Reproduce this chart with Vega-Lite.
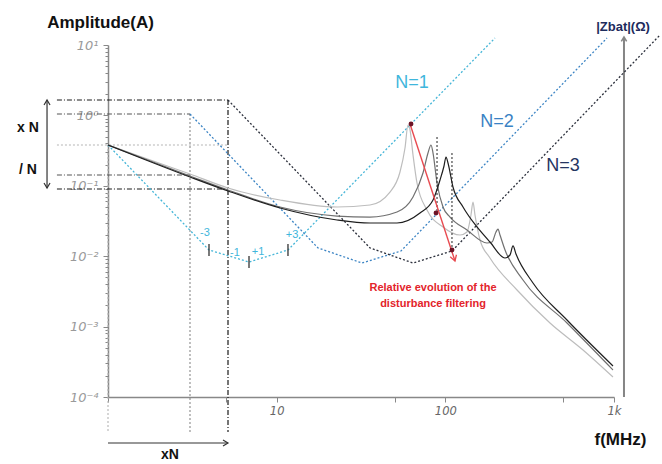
{
  "$schema": "https://vega.github.io/schema/vega-lite/v6.json",
  "width": 506,
  "height": 352,
  "autosize": {"type": "none"},
  "padding": {"left": 108, "top": 45, "right": 48, "bottom": 67},
  "background": "white",
  "config": {"view": {"stroke": null}, "font": "Liberation Sans"},
  "datasets": {
    "seg": [
      {"s": "kdd", "f": 0.498, "f2": 5.146, "a": 1.655, "a2": 1.655},
      {"s": "kdd", "f": 5.146, "f2": 5.146, "a": 1.655, "a2": 3.18e-5},
      {"s": "kdd", "f": 0.498, "f2": 5.146, "a": 0.0901, "a2": 0.0901},
      {"s": "gdd", "f": 0.498, "f2": 3.063, "a": 1.047, "a2": 1.047},
      {"s": "gdd", "f": 0.498, "f2": 3.063, "a": 0.1423, "a2": 0.1423},
      {"s": "gdot", "f": 3.063, "f2": 3.063, "a": 1.047, "a2": 3.18e-5},
      {"s": "lgdot", "f": 0.498, "f2": 5.146, "a": 0.3798, "a2": 0.3798},
      {"s": "lgdot", "f": 1, "f2": 1, "a": 0.3798, "a2": 3.18e-5},
      {"s": "kdot", "f": 89.27, "f2": 89.27, "a": 0.4933, "a2": 0.0411},
      {"s": "kdot", "f": 109.5, "f2": 109.5, "a": 0.2922, "a2": 0.01225},
      {"s": "tick", "f": 3.97, "f2": 3.97, "a": 0.0149, "a2": 0.01006},
      {"s": "tick", "f": 6.855, "f2": 6.855, "a": 0.01006, "a2": 0.0068},
      {"s": "tick", "f": 11.67, "f2": 11.67, "a": 0.0149, "a2": 0.01006},
      {"s": "red", "f": 61.74, "f2": 114.1, "a": 0.7546, "a2": 0.00855},
      {"s": "arr", "f": 0.435, "f2": 0.435, "a": 1.655, "a2": 0.0931},
      {"s": "arr", "f": 1, "f2": 5.146, "a": 2.22e-5, "a2": 2.22e-5},
      {"s": "zax", "f": 1146, "f2": 1146, "a": 0.0001, "a2": 12.99}
    ],
    "heads": [
      {"h": "up", "f": 0.435, "a": 1.655},
      {"h": "down", "f": 0.435, "a": 0.0931},
      {"h": "right", "f": 5.146, "a": 2.22e-5},
      {"h": "red", "f": 114.1, "a": 0.00855},
      {"h": "zup", "f": 1146, "a": 12.99}
    ],
    "dots": [
      {"f": 62.59, "a": 0.7546},
      {"f": 88.05, "a": 0.0411},
      {"f": 109.5, "a": 0.01225}
    ],
    "vc": [
      {"n": "N1", "f": 1, "a": 0.3798},
      {"n": "N1", "f": 3.97, "a": 0.01225},
      {"n": "N1", "f": 6.855, "a": 0.00827},
      {"n": "N1", "f": 11.67, "a": 0.01225},
      {"n": "N1", "f": 197.0, "a": 12.57},
      {"n": "N2", "f": 3.063, "a": 1.047},
      {"n": "N2", "f": 17.58, "a": 0.0131},
      {"n": "N2", "f": 32.06, "a": 0.008},
      {"n": "N2", "f": 54.59, "a": 0.01186},
      {"n": "N2", "f": 909, "a": 12.57},
      {"n": "N3", "f": 5.146, "a": 1.655},
      {"n": "N3", "f": 35.76, "a": 0.0131},
      {"n": "N3", "f": 64.33, "a": 0.008},
      {"n": "N3", "f": 109.5, "a": 0.01186},
      {"n": "N3", "f": 1874, "a": 13.87}
    ],
    "sp": [
      {"n": "S1", "f": 1, "a": 0.3798},
      {"n": "S1", "f": 3.063, "a": 0.1471},
      {"n": "S1", "f": 5.146, "a": 0.0931},
      {"n": "S1", "f": 10.46, "a": 0.0628},
      {"n": "S1", "f": 22.79, "a": 0.05},
      {"n": "S1", "f": 35.76, "a": 0.0534},
      {"n": "S1", "f": 46.97, "a": 0.0816},
      {"n": "S1", "f": 53.85, "a": 0.157},
      {"n": "S1", "f": 57.66, "a": 0.3442},
      {"n": "S1", "f": 60.08, "a": 0.7304},
      {"n": "S1", "f": 61.74, "a": 0.6204},
      {"n": "S1", "f": 64.33, "a": 0.2738},
      {"n": "S1", "f": 67.92, "a": 0.1096},
      {"n": "S1", "f": 77.85, "a": 0.0453},
      {"n": "S1", "f": 96.85, "a": 0.026},
      {"n": "S1", "f": 122.2, "a": 0.02},
      {"n": "S1", "f": 134.4, "a": 0.0221},
      {"n": "S1", "f": 141.9, "a": 0.0385},
      {"n": "S1", "f": 145.9, "a": 0.0589},
      {"n": "S1", "f": 149.9, "a": 0.0385},
      {"n": "S1", "f": 160.6, "a": 0.017},
      {"n": "S1", "f": 184, "a": 0.00943},
      {"n": "S1", "f": 266.1, "a": 0.00331},
      {"n": "S1", "f": 417.4, "a": 0.001125},
      {"n": "S1", "f": 655.1, "a": 0.000465},
      {"n": "S1", "f": 986.3, "a": 0.000192},
      {"n": "S2", "f": 1, "a": 0.3798},
      {"n": "S2", "f": 3.063, "a": 0.1377},
      {"n": "S2", "f": 5.146, "a": 0.0872},
      {"n": "S2", "f": 10.46, "a": 0.05},
      {"n": "S2", "f": 22.79, "a": 0.0372},
      {"n": "S2", "f": 35.76, "a": 0.036},
      {"n": "S2", "f": 51.69, "a": 0.0424},
      {"n": "S2", "f": 64.33, "a": 0.0693},
      {"n": "S2", "f": 73.71, "a": 0.152},
      {"n": "S2", "f": 78.92, "a": 0.2922},
      {"n": "S2", "f": 82.22, "a": 0.3798},
      {"n": "S2", "f": 84.53, "a": 0.2922},
      {"n": "S2", "f": 89.27, "a": 0.1096},
      {"n": "S2", "f": 96.85, "a": 0.05},
      {"n": "S2", "f": 106.6, "a": 0.036},
      {"n": "S2", "f": 134.4, "a": 0.0236},
      {"n": "S2", "f": 176.6, "a": 0.0154},
      {"n": "S2", "f": 189.1, "a": 0.0159},
      {"n": "S2", "f": 199.7, "a": 0.0221},
      {"n": "S2", "f": 205.3, "a": 0.0243},
      {"n": "S2", "f": 210.9, "a": 0.02},
      {"n": "S2", "f": 225.9, "a": 0.01225},
      {"n": "S2", "f": 288.7, "a": 0.00459},
      {"n": "S2", "f": 526.4, "a": 0.001125},
      {"n": "S2", "f": 986.3, "a": 0.000242},
      {"n": "S3", "f": 1, "a": 0.3798},
      {"n": "S3", "f": 3.063, "a": 0.1334},
      {"n": "S3", "f": 5.146, "a": 0.0844},
      {"n": "S3", "f": 10.46, "a": 0.0484},
      {"n": "S3", "f": 22.79, "a": 0.0327},
      {"n": "S3", "f": 35.76, "a": 0.0296},
      {"n": "S3", "f": 51.69, "a": 0.0296},
      {"n": "S3", "f": 70.75, "a": 0.0411},
      {"n": "S3", "f": 84.53, "a": 0.0628},
      {"n": "S3", "f": 92.99, "a": 0.1209},
      {"n": "S3", "f": 98.2, "a": 0.1911},
      {"n": "S3", "f": 100.9, "a": 0.2565},
      {"n": "S3", "f": 103.7, "a": 0.2109},
      {"n": "S3", "f": 111, "a": 0.0962},
      {"n": "S3", "f": 127.3, "a": 0.05},
      {"n": "S3", "f": 154.1, "a": 0.026},
      {"n": "S3", "f": 184, "a": 0.0159},
      {"n": "S3", "f": 225.9, "a": 0.00943},
      {"n": "S3", "f": 241.7, "a": 0.0104},
      {"n": "S3", "f": 251.9, "a": 0.014},
      {"n": "S3", "f": 262.4, "a": 0.01075},
      {"n": "S3", "f": 330.9, "a": 0.00416},
      {"n": "S3", "f": 526.4, "a": 0.00124},
      {"n": "S3", "f": 986.3, "a": 0.000276}
    ],
    "nlab": [
      {"n": "T1", "t": "N=1", "f": 63.45, "a": 2.885},
      {"n": "T2", "t": "N=2", "f": 202.5, "a": 0.8056},
      {"n": "T3", "t": "N=3", "f": 498.5, "a": 0.1911}
    ],
    "slab": [
      {"t": "-3", "f": 3.759, "a": 0.0214},
      {"t": "-1", "f": 5.662, "a": 0.0111},
      {"t": "+1", "f": 7.751, "a": 0.01148},
      {"t": "+3", "f": 12.33, "a": 0.02}
    ],
    "rlab": [
      {"t": "Relative evolution of the", "f": 84.52, "a": 0.003534},
      {"t": "disturbance filtering", "f": 84.52, "a": 0.002094}
    ],
    "blab": [
      {"t": "x N", "f": 0.3355, "a": 0.6622},
      {"t": "/ N", "f": 0.3355, "a": 0.1676},
      {"t": "xN", "f": 2.331, "a": 1.5e-5}
    ],
    "zlab": [
      {"t": "|Zbat|(Ω)", "f": 1131, "a": 18.02}
    ]
  },
  "encoding": {
    "x": {
      "field": "f",
      "type": "quantitative",
      "scale": {"type": "log", "domain": [1, 1000], "nice": false},
      "axis": {
        "values": [1, 5, 10, 50, 100, 500, 1000],
        "labelExpr": "datum.value==10?'10':datum.value==100?'100':datum.value==1000?'1k':''",
        "title": "f(MHz)",
        "titleX": 512,
        "titleY": 42,
        "titleAlign": "center",
        "titleBaseline": "middle",
        "titleFontSize": 17,
        "titleFontWeight": "bold",
        "titleColor": "#111111",
        "labelFont": "DejaVu Sans",
        "labelFontStyle": "italic",
        "labelFontSize": 11.5,
        "labelColor": "#666666",
        "labelPadding": 3,
        "labelFlush": false,
        "labelOverlap": false,
        "tickSize": 5,
        "tickColor": "#888888",
        "domainColor": "#888888",
        "domainWidth": 1.5,
        "grid": false
      }
    },
    "y": {
      "field": "a",
      "type": "quantitative",
      "scale": {"type": "log", "domain": [0.0001, 10], "nice": false},
      "axis": {
        "values": [0.0001, 0.0002, 0.0003, 0.0004, 0.0005, 0.0006, 0.0007, 0.0008, 0.0009, 0.001, 0.002, 0.003, 0.004, 0.005, 0.006, 0.007, 0.008, 0.009, 0.01, 0.02, 0.03, 0.04, 0.05, 0.06, 0.07, 0.08, 0.09, 0.1, 0.2, 0.3, 0.4, 0.5, 0.6, 0.7, 0.8, 0.9, 1, 2, 3, 4, 5, 6, 7, 8, 9, 10],
        "labelExpr": "datum.value==10?'10¹':datum.value==1?'10⁰':datum.value==0.1?'10⁻¹':datum.value==0.01?'10⁻²':datum.value==0.001?'10⁻³':datum.value==0.0001?'10⁻⁴':''",
        "title": "Amplitude(A)",
        "titleX": -8,
        "titleY": -23,
        "titleAngle": 0,
        "titleAlign": "center",
        "titleBaseline": "middle",
        "titleFontSize": 17,
        "titleFontWeight": "bold",
        "titleColor": "#111111",
        "labelFont": "DejaVu Sans",
        "labelFontStyle": "italic",
        "labelFontSize": 13,
        "labelColor": "#9a9a9a",
        "labelPadding": 5,
        "labelOverlap": false,
        "tickSize": {"condition": {"test": "datum.value==10||datum.value==1||datum.value==0.1||datum.value==0.01||datum.value==0.001||datum.value==0.0001", "value": 5}, "value": 3},
        "tickColor": "#888888",
        "domainColor": "#888888",
        "domainWidth": 1.5,
        "grid": false
      }
    }
  },
  "layer": [
    {"data": {"name": "seg"}, "transform": [{"filter": "datum.s=='lgdot'"}], "mark": {"type": "rule", "color": "#b5b5b5", "strokeDash": [2, 2], "strokeWidth": 1.1}, "encoding": {"x2": {"field": "f2"}, "y2": {"field": "a2"}}},
    {"data": {"name": "seg"}, "transform": [{"filter": "datum.s=='gdot'"}], "mark": {"type": "rule", "color": "#8a8a8a", "strokeDash": [2, 2], "strokeWidth": 1.1}, "encoding": {"x2": {"field": "f2"}, "y2": {"field": "a2"}}},
    {"data": {"name": "seg"}, "transform": [{"filter": "datum.s=='gdd'"}], "mark": {"type": "rule", "color": "#555555", "strokeDash": [5, 2, 1, 2], "strokeWidth": 1.1}, "encoding": {"x2": {"field": "f2"}, "y2": {"field": "a2"}}},
    {"data": {"name": "seg"}, "transform": [{"filter": "datum.s=='kdd'"}], "mark": {"type": "rule", "color": "#1a1a1a", "strokeDash": [5, 2, 1, 2], "strokeWidth": 1.2}, "encoding": {"x2": {"field": "f2"}, "y2": {"field": "a2"}}},
    {"data": {"name": "seg"}, "transform": [{"filter": "datum.s=='zax'"}], "mark": {"type": "rule", "color": "#858585", "strokeWidth": 2}, "encoding": {"x2": {"field": "f2"}, "y2": {"field": "a2"}}},
    {
      "data": {"name": "vc"},
      "mark": {"type": "line", "strokeDash": [2, 2], "strokeWidth": 1.3},
      "encoding": {
        "color": {"field": "n", "type": "nominal", "legend": null, "scale": {"domain": ["N1", "N2", "N3", "S1", "S2", "S3", "T1", "T2", "T3"], "range": ["#46b6d8", "#3b84c4", "#2b2f3b", "#bdbdbd", "#707070", "#1e1e1e", "#3fb6dc", "#3a82c4", "#253562"]}}
      }
    },
    {
      "data": {"name": "sp"},
      "mark": {"type": "line", "strokeWidth": 1.2, "interpolate": "monotone"},
      "encoding": {
        "color": {"field": "n", "type": "nominal", "legend": null, "scale": {"domain": ["N1", "N2", "N3", "S1", "S2", "S3", "T1", "T2", "T3"], "range": ["#46b6d8", "#3b84c4", "#2b2f3b", "#bdbdbd", "#707070", "#1e1e1e", "#3fb6dc", "#3a82c4", "#253562"]}}
      }
    },
    {"data": {"name": "seg"}, "transform": [{"filter": "datum.s=='kdot'"}], "mark": {"type": "rule", "color": "#222222", "strokeDash": [2, 2], "strokeWidth": 1}, "encoding": {"x2": {"field": "f2"}, "y2": {"field": "a2"}}},
    {"data": {"name": "seg"}, "transform": [{"filter": "datum.s=='tick'"}], "mark": {"type": "rule", "color": "#333333", "strokeWidth": 1.3}, "encoding": {"x2": {"field": "f2"}, "y2": {"field": "a2"}}},
    {"data": {"name": "seg"}, "transform": [{"filter": "datum.s=='arr'"}], "mark": {"type": "rule", "color": "#333333", "strokeWidth": 1.2}, "encoding": {"x2": {"field": "f2"}, "y2": {"field": "a2"}}},
    {"data": {"name": "seg"}, "transform": [{"filter": "datum.s=='red'"}], "mark": {"type": "rule", "color": "#e84a50", "strokeWidth": 1.4}, "encoding": {"x2": {"field": "f2"}, "y2": {"field": "a2"}}},
    {"data": {"name": "heads"}, "transform": [{"filter": "datum.h=='up'"}], "mark": {"type": "point", "shape": "M-0.6,1L0,0L0.6,1", "filled": false, "stroke": "#333333", "strokeWidth": 1.2, "size": 100, "angle": 0, "opacity": 1}},
    {"data": {"name": "heads"}, "transform": [{"filter": "datum.h=='down'"}], "mark": {"type": "point", "shape": "M-0.6,1L0,0L0.6,1", "filled": false, "stroke": "#333333", "strokeWidth": 1.2, "size": 100, "angle": 180, "opacity": 1}},
    {"data": {"name": "heads"}, "transform": [{"filter": "datum.h=='right'"}], "mark": {"type": "point", "shape": "M-0.6,1L0,0L0.6,1", "filled": false, "stroke": "#333333", "strokeWidth": 1.2, "size": 100, "angle": 90, "opacity": 1}},
    {"data": {"name": "heads"}, "transform": [{"filter": "datum.h=='red'"}], "mark": {"type": "point", "shape": "M-0.6,1L0,0L0.6,1", "filled": false, "stroke": "#e84a50", "strokeWidth": 1.3, "size": 120, "angle": 162, "opacity": 1}},
    {"data": {"name": "heads"}, "transform": [{"filter": "datum.h=='zup'"}], "mark": {"type": "point", "shape": "M-0.6,1L0,0L0.6,1", "filled": false, "stroke": "#858585", "strokeWidth": 1.5, "size": 80, "angle": 0, "opacity": 1}},
    {"data": {"name": "dots"}, "mark": {"type": "point", "filled": true, "color": "#6d1426", "size": 24, "opacity": 1}},
    {
      "data": {"name": "nlab"},
      "mark": {"type": "text", "fontSize": 18, "align": "center", "baseline": "middle", "font": "Liberation Sans"},
      "encoding": {
        "text": {"field": "t"},
        "color": {"field": "n", "type": "nominal", "legend": null, "scale": {"domain": ["N1", "N2", "N3", "S1", "S2", "S3", "T1", "T2", "T3"], "range": ["#46b6d8", "#3b84c4", "#2b2f3b", "#bdbdbd", "#707070", "#1e1e1e", "#3fb6dc", "#3a82c4", "#253562"]}}
      }
    },
    {"data": {"name": "slab"}, "mark": {"type": "text", "fontSize": 11, "align": "center", "baseline": "middle", "color": "#3fb6dc"}, "encoding": {"text": {"field": "t"}}},
    {"data": {"name": "rlab"}, "mark": {"type": "text", "fontSize": 11, "fontWeight": "bold", "align": "center", "baseline": "middle", "color": "#e3242b"}, "encoding": {"text": {"field": "t"}}},
    {"data": {"name": "blab"}, "mark": {"type": "text", "fontSize": 14, "fontWeight": "bold", "align": "center", "baseline": "middle", "color": "#111111"}, "encoding": {"text": {"field": "t"}}},
    {"data": {"name": "zlab"}, "mark": {"type": "text", "fontSize": 13, "fontWeight": "bold", "align": "center", "baseline": "middle", "color": "#1d2b5c"}, "encoding": {"text": {"field": "t"}}}
  ]
}
